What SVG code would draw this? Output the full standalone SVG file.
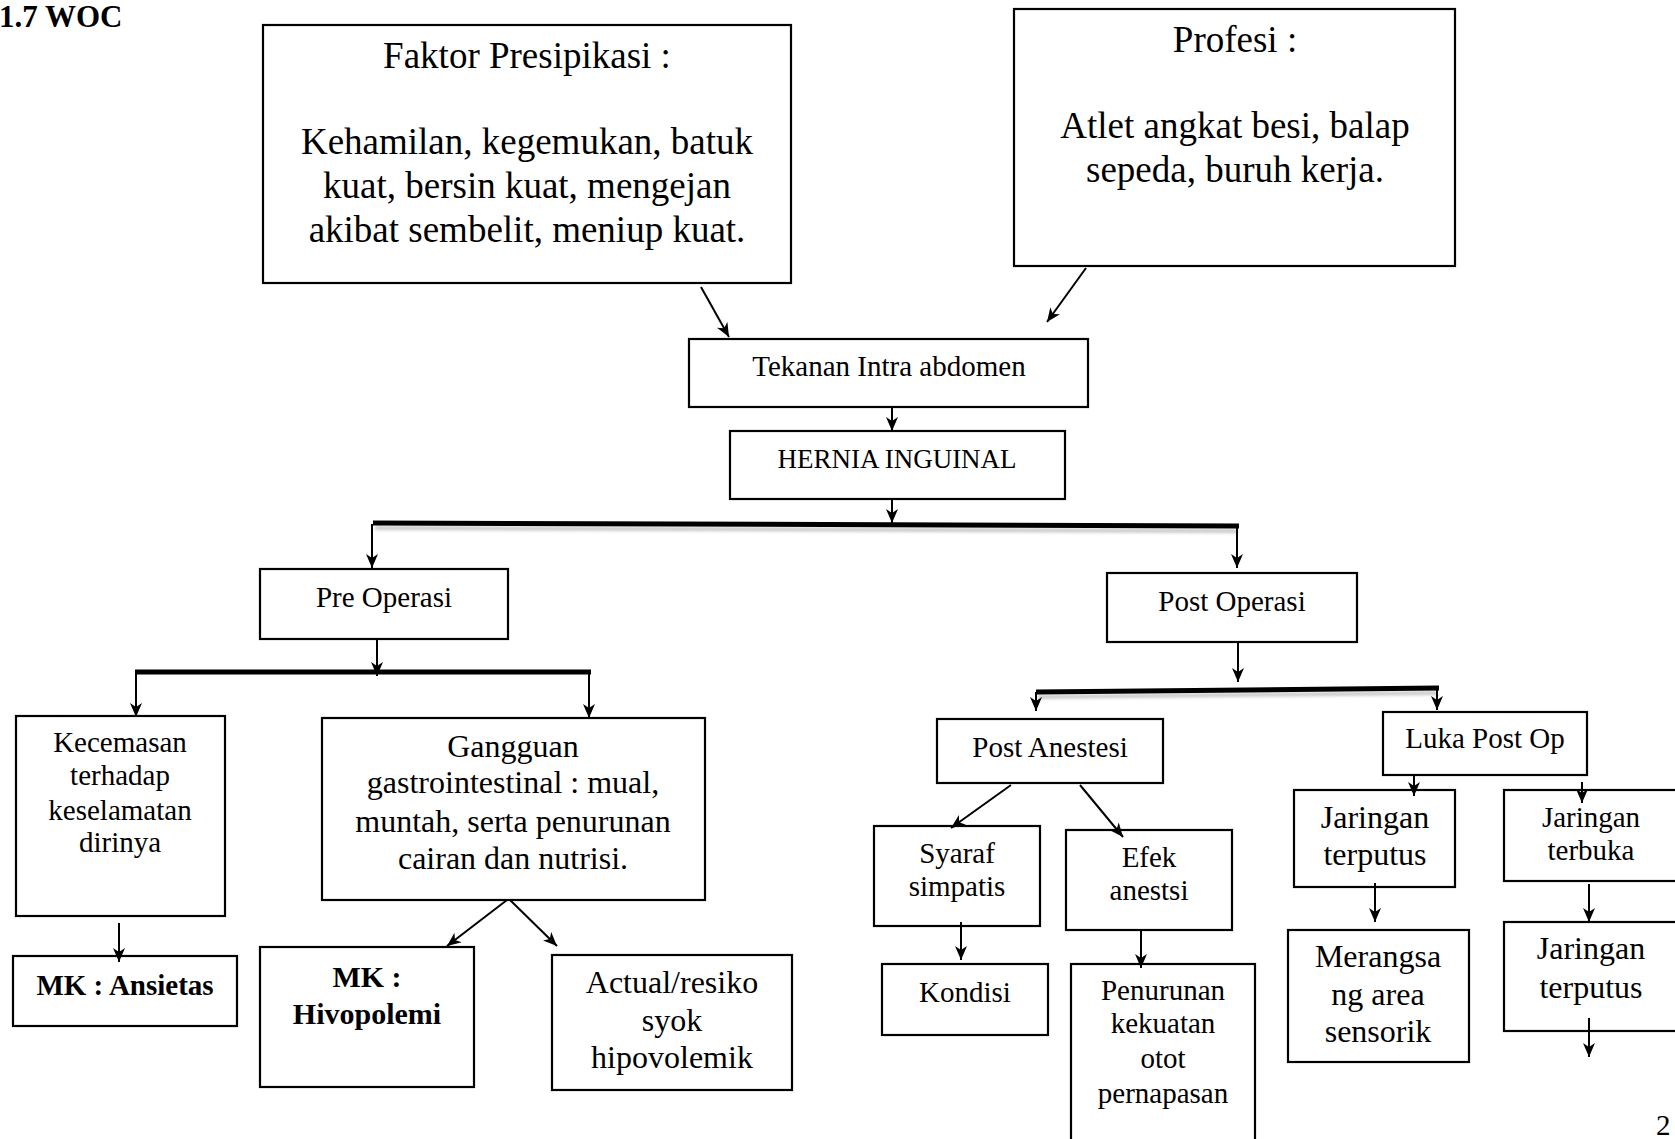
<svg xmlns="http://www.w3.org/2000/svg" width="1675" height="1139" viewBox="0 0 1675 1139">
<style>
.box{fill:#fff;stroke:#000;stroke-width:2.2}
.t{font-family:"Liberation Serif","Times New Roman",serif;fill:#000;text-anchor:middle}
.f29{font-size:29px}.f32{font-size:32px}.f37{font-size:37px}.f27{font-size:27px}
.b{font-weight:bold}
.arr{stroke:#000;stroke-width:2;fill:none;marker-end:url(#ah)}
.bar{stroke:#000;stroke-width:5;fill:none}
.sh{stroke:#888;stroke-width:4;fill:none;opacity:0.45;filter:url(#blur)}
</style>
<defs>
<marker id="ah" viewBox="0 0 14 12" refX="14" refY="6" markerWidth="14" markerHeight="12" markerUnits="userSpaceOnUse" orient="auto">
<path d="M0,0 L14,6 L0,12 L4,6 Z" fill="#000"/>
</marker>
<filter id="blur" x="-5%" y="-200%" width="110%" height="500%"><feGaussianBlur stdDeviation="1.5"/></filter>
</defs>
<rect width="1675" height="1139" fill="#fff"/>
<text class="t b" x="-1" y="27" style="text-anchor:start;font-size:31px">1.7 WOC</text>

<g id="faktor"><rect class="box" x="263" y="25" width="528" height="258"/>
<text class="t f37" x="527" y="68">Faktor Presipikasi :</text>
<text class="t f37" x="527" y="154">Kehamilan, kegemukan, batuk</text>
<text class="t f37" x="527" y="198">kuat, bersin kuat, mengejan</text>
<text class="t f37" x="527" y="242">akibat sembelit, meniup kuat.</text></g>

<g id="profesi"><rect class="box" x="1014" y="9" width="441" height="257"/>
<text class="t f37" x="1235" y="52">Profesi :</text>
<text class="t f37" x="1235" y="138">Atlet angkat besi, balap</text>
<text class="t f37" x="1235" y="182">sepeda, buruh kerja.</text></g>

<g id="tekanan"><rect class="box" x="689" y="339" width="399" height="68"/>
<text class="t f29" x="889" y="376">Tekanan Intra abdomen</text></g>

<g id="hernia"><rect class="box" x="730" y="431" width="335" height="68"/>
<text class="t f27" x="897" y="468">HERNIA INGUINAL</text></g>

<g id="pre"><rect class="box" x="260" y="569" width="248" height="70"/>
<text class="t f29" x="384" y="607">Pre Operasi</text></g>

<g id="post"><rect class="box" x="1107" y="573" width="250" height="69"/>
<text class="t f29" x="1232" y="611">Post Operasi</text></g>

<g id="kecemasan"><rect class="box" x="16" y="716" width="209" height="200"/>
<text class="t f29" x="120" y="752">Kecemasan</text>
<text class="t f29" x="120" y="785">terhadap</text>
<text class="t f29" x="120" y="820">keselamatan</text>
<text class="t f29" x="120" y="852">dirinya</text></g>

<g id="gangguan"><rect class="box" x="322" y="718" width="383" height="182"/>
<text class="t f32" x="513" y="757">Gangguan</text>
<text class="t f32" x="513" y="793">gastrointestinal : mual,</text>
<text class="t f32" x="513" y="832">muntah, serta penurunan</text>
<text class="t f32" x="513" y="869">cairan dan nutrisi.</text></g>

<g id="ansietas"><rect class="box" x="13" y="956" width="224" height="70"/>
<text class="t f29 b" x="125" y="995">MK : Ansietas</text></g>

<g id="hivopolemi"><rect class="box" x="260" y="947" width="214" height="140"/>
<text class="t b" style="font-size:30px" x="367" y="987">MK :</text>
<text class="t b" style="font-size:30px" x="367" y="1024">Hivopolemi</text></g>

<g id="actual"><rect class="box" x="552" y="955" width="240" height="135"/>
<text class="t f32" x="672" y="993">Actual/resiko</text>
<text class="t f32" x="672" y="1031">syok</text>
<text class="t f32" x="672" y="1068">hipovolemik</text></g>

<g id="postanestesi"><rect class="box" x="937" y="719" width="226" height="64"/>
<text class="t f29" x="1050" y="757">Post Anestesi</text></g>

<g id="luka"><rect class="box" x="1383" y="712" width="204" height="63"/>
<text class="t f29" x="1485" y="748">Luka Post Op</text></g>

<g id="syaraf"><rect class="box" x="874" y="826" width="166" height="100"/>
<text class="t f29" x="957" y="863">Syaraf</text>
<text class="t f29" x="957" y="896">simpatis</text></g>

<g id="efek"><rect class="box" x="1066" y="830" width="166" height="100"/>
<text class="t f29" x="1149" y="867">Efek</text>
<text class="t f29" x="1149" y="900">anestsi</text></g>

<g id="kondisi"><rect class="box" x="882" y="964" width="166" height="71"/>
<text class="t f29" x="965" y="1002">Kondisi</text></g>

<g id="penurunan"><rect class="box" x="1071" y="964" width="184" height="200"/>
<text class="t f29" x="1163" y="1000">Penurunan</text>
<text class="t f29" x="1163" y="1033">kekuatan</text>
<text class="t f29" x="1163" y="1068">otot</text>
<text class="t f29" x="1163" y="1103">pernapasan</text></g>

<g id="jterputus1"><rect class="box" x="1294" y="790" width="161" height="97"/>
<text class="t f32" x="1375" y="828">Jaringan</text>
<text class="t f32" x="1375" y="865">terputus</text></g>

<g id="jterbuka"><rect class="box" x="1504" y="790" width="175" height="91"/>
<text class="t f29" x="1591" y="827">Jaringan</text>
<text class="t f29" x="1591" y="860">terbuka</text></g>

<g id="merangsang"><rect class="box" x="1288" y="930" width="181" height="132"/>
<text class="t f32" x="1378" y="967">Merangsa</text>
<text class="t f32" x="1378" y="1005">ng area</text>
<text class="t f32" x="1378" y="1042">sensorik</text></g>

<g id="jterputus2"><rect class="box" x="1504" y="922" width="175" height="109"/>
<text class="t f32" x="1591" y="959">Jaringan</text>
<text class="t f32" x="1591" y="998">terputus</text></g>

<text class="t f29" x="1656" y="1135" style="text-anchor:start">2</text>

<g id="connectors">
<line class="sh" x1="375" y1="528" x2="1237" y2="531"/>
<line class="sh" x1="137" y1="677" x2="589" y2="677"/>
<line class="sh" x1="1038" y1="697" x2="1437" y2="693"/>
<line class="bar" x1="373" y1="523" x2="1239" y2="526"/>
<line class="bar" x1="135" y1="672" x2="591" y2="672"/>
<line class="bar" x1="1036" y1="692" x2="1439" y2="688"/>
<line class="arr" x1="701" y1="287" x2="729" y2="337"/>
<line class="arr" x1="1086" y1="268" x2="1047" y2="322"/>
<line class="arr" x1="892" y1="407" x2="892" y2="431"/>
<line class="arr" x1="892" y1="499" x2="892" y2="523"/>
<line class="arr" x1="372" y1="524" x2="372" y2="568"/>
<line class="arr" x1="1237" y1="526" x2="1237" y2="568"/>
<line class="arr" x1="377" y1="639" x2="377" y2="676"/>
<line class="arr" x1="136" y1="674" x2="136" y2="717"/>
<line class="arr" x1="589" y1="674" x2="589" y2="718"/>
<line class="arr" x1="1238" y1="642" x2="1238" y2="682"/>
<line class="arr" x1="1036" y1="692" x2="1036" y2="711"/>
<line class="arr" x1="1437" y1="688" x2="1437" y2="710"/>
<line class="arr" x1="1011" y1="785" x2="951" y2="828"/>
<line class="arr" x1="1080" y1="785" x2="1123" y2="837"/>
<line class="arr" x1="961" y1="922" x2="961" y2="960"/>
<line class="arr" x1="1141" y1="930" x2="1141" y2="968"/>
<line class="arr" x1="1414" y1="775" x2="1414" y2="796"/>
<line class="arr" x1="1582" y1="782" x2="1582" y2="803"/>
<line class="arr" x1="1375" y1="883" x2="1375" y2="922"/>
<line class="arr" x1="1589" y1="884" x2="1589" y2="922"/>
<line class="arr" x1="1589" y1="1018" x2="1589" y2="1057"/>
<line class="arr" x1="119" y1="923" x2="119" y2="962"/>
<line class="arr" x1="507" y1="900" x2="447" y2="946"/>
<line class="arr" x1="510" y1="900" x2="557" y2="946"/>
</g>
</svg>
